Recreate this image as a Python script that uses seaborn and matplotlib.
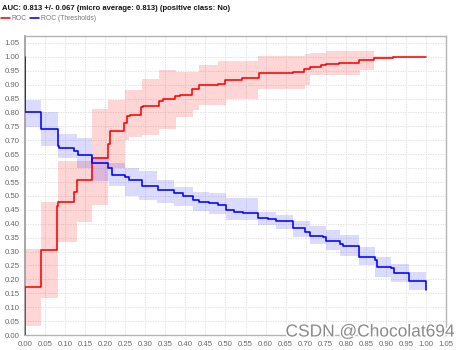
import numpy as np
import pandas as pd
import matplotlib
matplotlib.use("Agg")
import matplotlib.pyplot as plt
import matplotlib.patheffects as pe
import seaborn as sns

# ROC curve (mean over folds), step points: value holds until the next fpr
roc_fpr = [0.0, 0.0, 0.04, 0.081, 0.083, 0.122, 0.129, 0.166, 0.207, 0.212, 0.248,
           0.254, 0.263, 0.29, 0.295, 0.333, 0.345, 0.375, 0.386, 0.416, 0.435,
           0.481, 0.5, 0.542, 0.583, 0.668, 0.697, 0.71, 0.739, 0.75, 0.783,
           0.833, 0.87, 0.918, 1.0]
roc_tpr = [0.0, 0.171, 0.305, 0.463, 0.479, 0.514, 0.557, 0.638, 0.685, 0.734, 0.764,
           0.787, 0.79, 0.818, 0.825, 0.842, 0.847, 0.858, 0.864, 0.884, 0.898,
           0.904, 0.917, 0.925, 0.942, 0.947, 0.958, 0.964, 0.971, 0.976, 0.978,
           0.988, 0.997, 1.0, 1.0]

# ROC band (mean +/- std)
roc_band_x = [0.0, 0.04, 0.082, 0.13, 0.166, 0.208, 0.25, 0.26, 0.293, 0.335, 0.377,
              0.418, 0.435, 0.481, 0.502, 0.581, 0.6975, 0.71, 0.75, 0.835, 0.87,
              0.918, 1.0]
roc_band_lo = [0.034, 0.132, 0.335, 0.407, 0.467, 0.6, 0.70, 0.712, 0.718, 0.739, 0.784,
               0.808, 0.826, 0.826, 0.85, 0.883, 0.898, 0.934, 0.934, 0.954, 0.994,
               1.0, 1.0]
roc_band_hi = [0.308, 0.479, 0.625, 0.625, 0.814, 0.844, 0.88, 0.88, 0.922, 0.952, 0.944,
               0.944, 0.97, 0.985, 0.985, 1.003, 1.01, 1.015, 1.02, 1.02, 1.003,
               1.0, 1.0]

# Threshold curve
thr_fpr = [0.0, 0.0, 0.041, 0.0825, 0.085, 0.1225, 0.131, 0.166, 0.2075, 0.218, 0.25,
           0.26, 0.292, 0.331, 0.3725, 0.393, 0.418, 0.435, 0.46, 0.481, 0.502,
           0.5225, 0.543, 0.581, 0.606, 0.627, 0.668, 0.6975, 0.71, 0.743, 0.75,
           0.785, 0.793, 0.833, 0.8725, 0.877, 0.914, 0.92, 0.958, 1.0, 1.0]
thr_val = [1.0, 0.8, 0.74, 0.68, 0.674, 0.661, 0.647, 0.62, 0.599, 0.577, 0.569,
           0.557, 0.536, 0.521, 0.511, 0.499, 0.487, 0.479, 0.473, 0.467, 0.449,
           0.443, 0.437, 0.419, 0.416, 0.41, 0.385, 0.371, 0.357, 0.351, 0.339,
           0.327, 0.321, 0.281, 0.269, 0.245, 0.24, 0.222, 0.195, 0.195, 0.162]

thr_band_x = [0.0, 0.041, 0.0825, 0.13, 0.166, 0.21, 0.25, 0.285, 0.33, 0.3725, 0.418,
              0.46, 0.502, 0.581, 0.627, 0.668, 0.71, 0.75, 0.785, 0.833, 0.8725,
              0.914, 0.958, 1.0]
thr_band_lo = [0.748, 0.679, 0.635, 0.599, 0.555, 0.535, 0.50, 0.487, 0.475, 0.463, 0.445,
               0.435, 0.413, 0.395, 0.38, 0.353, 0.327, 0.305, 0.284, 0.251, 0.209,
               0.191, 0.162, 0.162]
thr_band_hi = [0.844, 0.80, 0.721, 0.707, 0.64, 0.617, 0.60, 0.59, 0.559, 0.533, 0.515,
               0.51, 0.491, 0.443, 0.43, 0.41, 0.392, 0.377, 0.359, 0.317, 0.281,
               0.257, 0.227, 0.227]

tick_values = [round(0.05 * i, 2) for i in range(22)]
tick_labels = [f"{v:.2f}" for v in tick_values]

title_text = "AUC: 0.813 +/- 0.067 (micro average: 0.813) (positive class: No)"
series_names = ["ROC", "ROC (Thresholds)"]
watermark = "CSDN @Chocolat694"

sns.set_style("white")
plt.rcParams["font.family"] = ["Liberation Sans", "DejaVu Sans"]

fig = plt.figure(figsize=(4.59, 3.5), dpi=100)
ax = fig.add_axes([25 / 459, 1 - 335 / 350, 421 / 459, 299 / 350])

red = "#ff0000"
blue = "#0000ff"

ax.fill_between(roc_band_x, roc_band_lo, roc_band_hi, step="post",
                color=red, alpha=0.16, linewidth=0, zorder=1)
ax.fill_between(thr_band_x, thr_band_lo, thr_band_hi, step="post",
                color=blue, alpha=0.14, linewidth=0, zorder=1)

roc_df = pd.DataFrame({"fpr": roc_fpr, "value": roc_tpr})
thr_df = pd.DataFrame({"fpr": thr_fpr, "value": thr_val})

sns.lineplot(data=roc_df, x="fpr", y="value", ax=ax, estimator=None, sort=False,
             drawstyle="steps-post", color=red, linewidth=1.15, label=series_names[0],
             zorder=3)
sns.lineplot(data=thr_df, x="fpr", y="value", ax=ax, estimator=None, sort=False,
             drawstyle="steps-post", color=blue, linewidth=1.15, label=series_names[1],
             zorder=3)

ax.set_xlim(0, 1.05)
ax.set_ylim(0, 1.075)
ax.set_xticks(tick_values)
ax.set_xticklabels(tick_labels)
ax.set_yticks(tick_values)
ax.set_yticklabels(tick_labels)
ax.set_xlabel("")
ax.set_ylabel("")
ax.tick_params(axis="both", length=0, labelsize=5.6, labelcolor="#666666")
ax.tick_params(axis="x", pad=4)
ax.tick_params(axis="y", pad=4)
ax.grid(True, linestyle=(0, (1.5, 1.5)), color="#dcdcdc", linewidth=0.6, zorder=0)
ax.set_axisbelow(True)
for side, sp in ax.spines.items():
    sp.set_color("#b4b4b4")
    sp.set_linewidth(1.0)
ax.spines["left"].set_color("#a0a0a0")
ax.spines["left"].set_linewidth(1.3)

leg = ax.legend(loc="center left", bbox_to_anchor=(-25 / 421, 1 + 17 / 299), ncol=2,
                frameon=False, fontsize=4.9, handlelength=1.3, handletextpad=0.3,
                columnspacing=0.5, borderaxespad=0.0, borderpad=0.1)
for t in leg.get_texts():
    t.set_color("#777777")

fig.text(2 / 459, 1 - 8.5 / 350, title_text, fontsize=5.5, fontweight="bold",
         color="#111111", ha="left", va="center")

fig.text(455 / 459, 1 - 332 / 350, watermark, fontsize=12.5, color="#8a8a8a",
         ha="right", va="center",
         path_effects=[pe.withStroke(linewidth=2.5, foreground="white")], zorder=10)

fig.savefig("out.png", dpi=100, facecolor="white")
